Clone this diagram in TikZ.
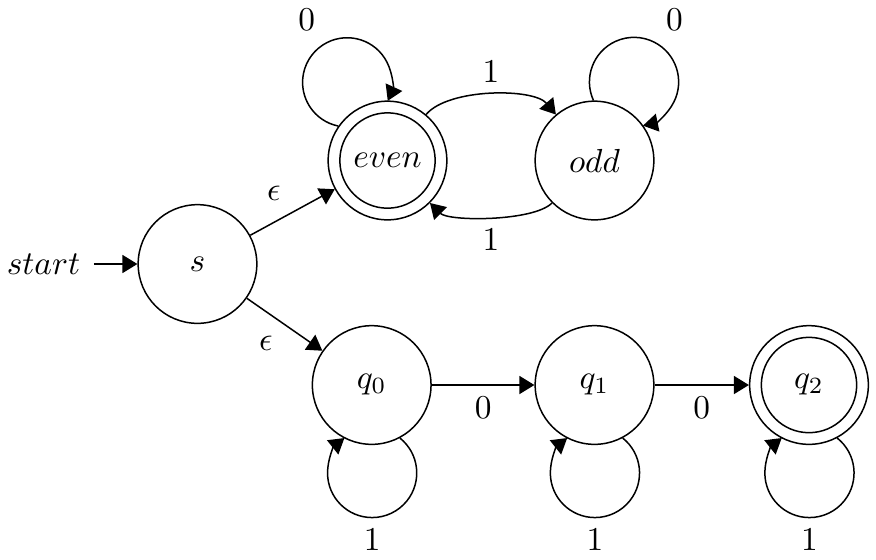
\documentclass[tikz,border=0pt]{standalone}
\usetikzlibrary{arrows.meta}
\begin{document}
\begin{tikzpicture}[x=0.3pt,y=0.3pt, line width=0.45pt,
  >={Triangle[length=4.5pt,width=5.4pt]},
  statenode/.style={circle,draw,minimum size=35.6pt,inner sep=0pt},
  acceptnode/.style={statenode, path picture={\draw (path picture bounding box.center) circle[radius=14.3pt];}},
  loopedge/.style={->}]
\useasboundingbox (0,0) rectangle (876,559);
\node[statenode] (s) at (197.5,295) {$s$};
\node[acceptnode] (even) at (387.5,398.5) {$even$};
\node[statenode] (odd) at (594.5,398.5) {$odd$};
\node[statenode] (q0) at (371.7,174) {$q_0$};
\node[statenode] (q1) at (594.5,174) {$q_1$};
\node[acceptnode] (q2) at (809,174) {$q_2$};
\node[inner xsep=3.9pt] (start) at (43.5,295) {$start$};
\draw[->] (start) -- (s);
\draw[->] (s) -- node[above left] {$\epsilon$} (even);
\draw[->] (s) -- node[below left] {$\epsilon$} (q0);
\draw[->] (even) to[out=50,in=130,distance=10.4pt] node[above] {$1$} (odd);
\draw[->] (odd) to[out=-135,in=-45,distance=7.9pt] node[below] {$1$} (even);
\draw[loopedge] (even.145) arc[start angle=258.5, end angle=117, radius=13.38pt]
  node[above left] {$0$} arc[start angle=117, end angle=-24.5, radius=13.38pt];
\draw[loopedge] (odd.91) arc[start angle=204.5, end angle=63, radius=13.38pt]
  node[above right] {$0$} arc[start angle=63, end angle=-78.5, radius=13.38pt];
\draw[->] (q0) -- node[below] {$0$} (q1);
\draw[->] (q1) -- node[below] {$0$} (q2);
\draw[loopedge] (q0.-62) arc[start angle=51.5, end angle=-90, radius=13.38pt]
  node[below] {$1$} arc[start angle=-90, end angle=-231.5, radius=13.38pt];
\draw[loopedge] (q1.-62) arc[start angle=51.5, end angle=-90, radius=13.38pt]
  node[below] {$1$} arc[start angle=-90, end angle=-231.5, radius=13.38pt];
\draw[loopedge] (q2.-62) arc[start angle=51.5, end angle=-90, radius=13.38pt]
  node[below] {$1$} arc[start angle=-90, end angle=-231.5, radius=13.38pt];
\end{tikzpicture}
\end{document}
